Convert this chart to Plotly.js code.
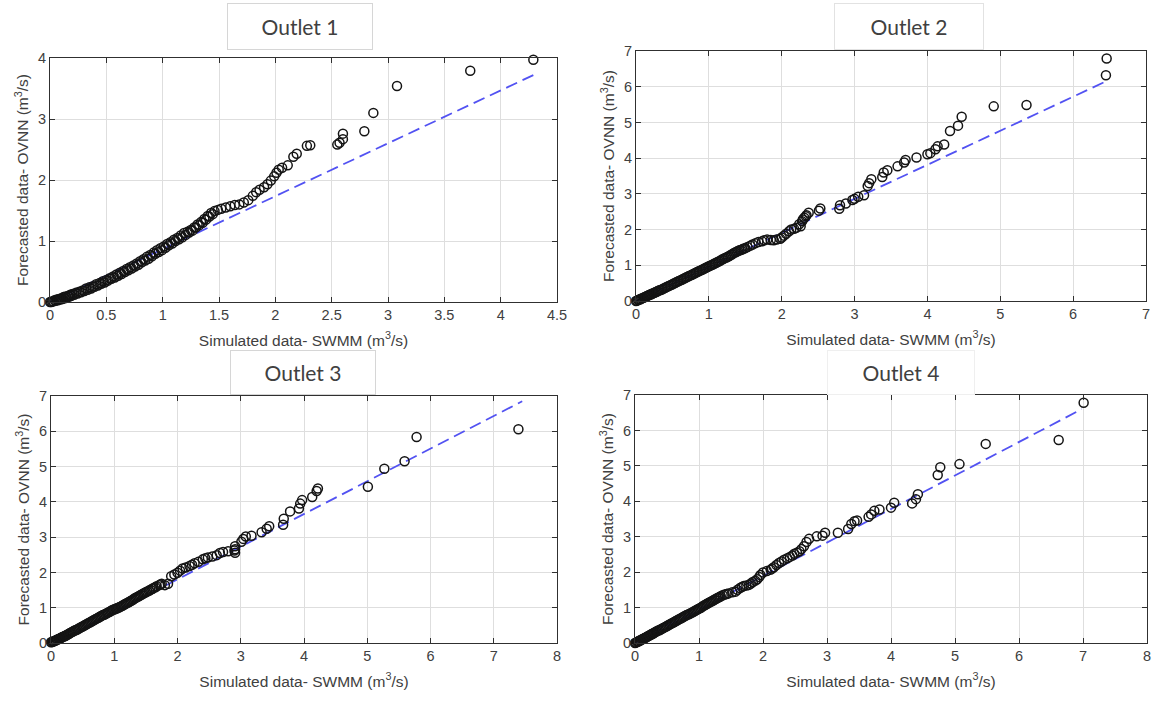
<!DOCTYPE html>
<html>
<head>
<meta charset="utf-8">
<script src="https://cdn.plot.ly/plotly-3.0.1.min.js"></script>
<style>
  html, body { margin: 0; padding: 0; background: #ffffff; }
  #chart { width: 1157px; height: 702px; }
</style>
</head>
<body>
<div id="chart"></div>
<script>
// ---------- Data ----------
const panelTitles = ["Outlet 1", "Outlet 2", "Outlet 3", "Outlet 4"];
const xAxisTitle = "Simulated data- SWMM (m<sup>3</sup>/s)";
const yAxisTitle = "Forecasted data- OVNN (m<sup>3</sup>/s)";

// Outlet 1
const o1x = [0.00,0.02,0.04,0.06,0.08,0.10,0.12,0.14,0.16,0.18,0.20,0.23,0.26,0.29,0.32,0.35,0.38,0.41,0.44,0.47,0.50,0.53,0.56,0.59,0.62,0.65,0.68,0.71,0.74,0.77,0.80,0.83,0.86,0.89,0.92,0.95,0.98,1.01,1.04,1.07,1.10,1.13,1.16,1.19,1.22,1.25,1.28,1.31,1.34,1.37,1.40,1.43,1.46,1.49,1.52,1.56,1.60,1.64,1.68,1.72,1.76,1.80,1.83,1.86,1.90,1.93,1.96,1.99,2.01,2.03,2.06,2.11,2.16,2.19,2.28,2.31,2.55,2.57,2.60,2.60,2.79,2.87,3.08,3.73,4.29];
const o1y = [0.00,0.01,0.03,0.04,0.05,0.06,0.08,0.09,0.10,0.12,0.13,0.15,0.17,0.19,0.22,0.24,0.26,0.29,0.31,0.34,0.36,0.39,0.42,0.45,0.48,0.51,0.54,0.57,0.60,0.63,0.67,0.70,0.74,0.77,0.81,0.85,0.88,0.91,0.95,0.98,1.02,1.05,1.09,1.13,1.15,1.18,1.22,1.27,1.31,1.36,1.41,1.46,1.49,1.51,1.53,1.55,1.57,1.59,1.60,1.63,1.67,1.74,1.80,1.84,1.88,1.93,1.99,2.06,2.12,2.17,2.20,2.24,2.38,2.43,2.56,2.57,2.58,2.61,2.67,2.76,2.80,3.10,3.54,3.79,3.97];
const o1xb = [0.01,0.03,0.05,0.07,0.09,0.11,0.13,0.15,0.17,0.19,0.215,0.245,0.275,0.305,0.335,0.365,0.395,0.425,0.455,0.485,0.515,0.545,0.575,0.605,0.635,0.665,0.695,0.725,0.755,0.785,0.815,0.845,0.875,0.905,0.935,0.965,0.995,1.025,1.055,1.085,1.115,1.145,1.175,1.205,1.235,1.265,1.295,1.325,1.355,1.385,1.415,1.445];
const o1yb = [0.00,0.01,0.02,0.03,0.04,0.05,0.06,0.07,0.09,0.10,0.12,0.14,0.16,0.18,0.20,0.22,0.25,0.27,0.30,0.32,0.35,0.38,0.40,0.43,0.46,0.49,0.52,0.55,0.58,0.61,0.65,0.68,0.71,0.75,0.79,0.82,0.85,0.89,0.93,0.96,1.00,1.03,1.06,1.10,1.14,1.17,1.22,1.26,1.30,1.35,1.40,1.44];
const fit1x = [0.00, 4.29];
const fit1y = [0.00, 3.72];

// Outlet 2
const o2x = [0.00,0.03,0.06,0.09,0.12,0.15,0.18,0.21,0.24,0.27,0.30,0.34,0.38,0.42,0.46,0.50,0.54,0.58,0.62,0.66,0.70,0.74,0.78,0.82,0.86,0.90,0.94,0.98,1.02,1.06,1.10,1.14,1.18,1.22,1.26,1.30,1.34,1.38,1.42,1.46,1.50,1.57,1.64,1.73,1.80,1.89,1.98,2.03,2.10,2.17,2.26,2.28,2.31,2.34,2.37,2.51,2.53,2.79,2.80,2.88,2.97,3.00,3.05,3.13,3.18,3.20,3.23,3.38,3.40,3.45,3.59,3.68,3.70,3.85,4.00,4.04,4.11,4.14,4.23,4.31,4.42,4.47,4.91,5.36,6.45,6.46];
const o2y = [0.00,0.03,0.05,0.08,0.11,0.14,0.17,0.19,0.22,0.25,0.28,0.31,0.35,0.39,0.43,0.47,0.51,0.55,0.59,0.63,0.67,0.71,0.75,0.79,0.83,0.87,0.91,0.95,0.99,1.03,1.07,1.11,1.16,1.20,1.24,1.29,1.34,1.38,1.42,1.45,1.48,1.55,1.62,1.67,1.72,1.70,1.74,1.83,1.95,2.02,2.09,2.23,2.33,2.40,2.47,2.53,2.59,2.58,2.68,2.73,2.83,2.86,2.92,2.96,3.22,3.30,3.41,3.47,3.60,3.66,3.77,3.88,3.95,4.02,4.11,4.14,4.25,4.33,4.38,4.76,4.91,5.16,5.45,5.49,6.32,6.79];
const o2xb = [0.015,0.045,0.075,0.105,0.135,0.165,0.195,0.225,0.255,0.285,0.32,0.36,0.40,0.44,0.48,0.52,0.56,0.60,0.64,0.68,0.72,0.76,0.80,0.84,0.88,0.92,0.96,1.00,1.04,1.08,1.12,1.16,1.20,1.24,1.28,1.32,1.36,1.40,1.44,1.48,1.53,1.60,1.68,1.76,1.85,1.93,2.00,2.06,2.13,2.20,2.24,2.29,2.33];
const o2yb = [0.01,0.04,0.07,0.09,0.12,0.15,0.18,0.21,0.23,0.26,0.30,0.33,0.37,0.41,0.45,0.49,0.53,0.57,0.61,0.65,0.69,0.73,0.77,0.81,0.85,0.89,0.93,0.97,1.01,1.05,1.09,1.13,1.18,1.22,1.26,1.31,1.36,1.40,1.43,1.47,1.51,1.58,1.65,1.70,1.71,1.72,1.78,1.88,2.00,2.05,2.15,2.28,2.37];
const fit2x = [0.00, 6.45];
const fit2y = [0.00, 6.15];

// Outlet 3
const o3x = [0.00,0.03,0.06,0.09,0.12,0.15,0.18,0.21,0.24,0.27,0.30,0.34,0.38,0.42,0.46,0.50,0.54,0.58,0.62,0.66,0.70,0.74,0.78,0.82,0.86,0.90,0.94,0.98,1.02,1.06,1.10,1.14,1.18,1.22,1.26,1.30,1.34,1.38,1.42,1.46,1.50,1.55,1.60,1.65,1.71,1.75,1.85,1.90,2.00,2.08,2.19,2.27,2.40,2.48,2.62,2.72,2.91,2.91,2.91,3.01,3.04,3.08,3.17,3.33,3.41,3.45,3.67,3.68,3.78,3.92,3.94,3.97,4.13,4.20,4.22,5.01,5.27,5.59,5.78,7.39];
const o3y = [0.02,0.04,0.06,0.09,0.11,0.14,0.17,0.19,0.22,0.25,0.28,0.32,0.36,0.39,0.43,0.47,0.51,0.55,0.59,0.63,0.67,0.71,0.75,0.79,0.82,0.86,0.90,0.94,0.97,1.00,1.03,1.07,1.11,1.15,1.19,1.23,1.28,1.32,1.36,1.40,1.44,1.48,1.53,1.58,1.64,1.68,1.68,1.89,1.99,2.11,2.18,2.26,2.37,2.42,2.49,2.58,2.56,2.66,2.74,2.87,2.95,3.02,3.04,3.14,3.24,3.31,3.35,3.52,3.73,3.81,3.95,4.05,4.14,4.31,4.38,4.43,4.94,5.15,5.84,6.06];
const o3xb = [0.015,0.045,0.075,0.105,0.135,0.165,0.195,0.225,0.255,0.285,0.32,0.36,0.40,0.44,0.48,0.52,0.56,0.60,0.64,0.68,0.72,0.76,0.80,0.84,0.88,0.92,0.96,1.00,1.04,1.08,1.12,1.16,1.20,1.24,1.28,1.32,1.36,1.40,1.44,1.48,1.52,1.57,1.62,1.67,1.73,1.80,1.95,2.04,2.13,2.23,2.33,2.44,2.55,2.67,2.80,2.90];
const o3yb = [0.03,0.05,0.07,0.10,0.12,0.15,0.18,0.20,0.23,0.26,0.30,0.34,0.37,0.41,0.45,0.49,0.53,0.57,0.61,0.65,0.69,0.73,0.77,0.80,0.84,0.88,0.92,0.95,0.98,1.01,1.05,1.09,1.13,1.17,1.21,1.26,1.30,1.34,1.38,1.42,1.46,1.51,1.56,1.61,1.66,1.64,1.94,2.05,2.14,2.22,2.30,2.40,2.45,2.55,2.60,2.62];
const fit3x = [0.05, 7.45];
const fit3y = [0.00, 6.85];

// Outlet 4
const o4x = [0.00,0.03,0.06,0.09,0.12,0.15,0.18,0.21,0.24,0.27,0.30,0.34,0.38,0.42,0.46,0.50,0.54,0.58,0.62,0.66,0.70,0.74,0.78,0.82,0.86,0.90,0.94,0.98,1.02,1.06,1.10,1.14,1.18,1.22,1.26,1.30,1.34,1.40,1.46,1.57,1.64,1.70,1.78,1.84,1.91,1.96,2.00,2.12,2.17,2.25,2.33,2.42,2.49,2.57,2.64,2.72,2.84,2.93,2.97,3.17,3.33,3.38,3.43,3.47,3.65,3.69,3.74,3.82,4.00,4.05,4.33,4.39,4.42,4.73,4.77,5.07,5.48,6.62,7.01];
const o4y = [0.00,0.03,0.05,0.08,0.11,0.14,0.17,0.20,0.23,0.26,0.29,0.33,0.36,0.40,0.44,0.48,0.52,0.56,0.60,0.64,0.68,0.72,0.76,0.80,0.83,0.87,0.91,0.95,0.99,1.04,1.08,1.12,1.16,1.20,1.24,1.28,1.32,1.37,1.40,1.45,1.55,1.61,1.64,1.72,1.80,1.92,1.99,2.07,2.14,2.26,2.35,2.43,2.52,2.59,2.73,2.94,3.01,3.03,3.11,3.11,3.22,3.36,3.44,3.46,3.56,3.63,3.73,3.77,3.82,3.96,3.94,4.06,4.20,4.74,4.96,5.05,5.62,5.73,6.78];
const o4xb = [0.015,0.045,0.075,0.105,0.135,0.165,0.195,0.225,0.255,0.285,0.32,0.36,0.40,0.44,0.48,0.52,0.56,0.60,0.64,0.68,0.72,0.76,0.80,0.84,0.88,0.92,0.96,1.00,1.04,1.08,1.12,1.16,1.20,1.24,1.28,1.32,1.37,1.43,1.52,1.60,1.67,1.74,1.81,1.88,1.94,2.06,2.14,2.21,2.29,2.38,2.46,2.53,2.60,2.68];
const o4yb = [0.01,0.04,0.07,0.10,0.12,0.15,0.18,0.21,0.24,0.27,0.31,0.35,0.38,0.42,0.46,0.50,0.54,0.58,0.62,0.66,0.70,0.74,0.78,0.81,0.85,0.89,0.93,0.97,1.01,1.06,1.10,1.14,1.18,1.22,1.26,1.30,1.35,1.38,1.43,1.50,1.58,1.62,1.68,1.76,1.86,2.03,2.10,2.20,2.30,2.39,2.47,2.55,2.65,2.85];
const fit4x = [0.00, 6.98];
const fit4y = [0.00, 6.60];

const xRanges = [[0, 4.5], [0, 7], [0, 8], [0, 8]];
const yRanges = [[0, 4], [0, 7], [0, 7], [0, 7]];
const xDticks = [0.5, 1, 1, 1];
const yDticks = [1, 1, 1, 1];

// ---------- Layout geometry (pixels in a 1157 x 702 page) ----------
const W = 1157, H = 702;
const boxes = [ // [left, right, top, bottom] of each plot area
  [50, 557, 58, 302],
  [636, 1146, 51, 301],
  [51, 557, 396, 643],
  [635, 1147, 395, 643]
];
const titleBoxes = [ // [centerX, centerY, width, height, borderColor]
  [300, 27, 142, 43, "#d6d6d6"],
  [909, 27, 146, 43, "#e2e2e2"],
  [303, 372, 142, 41, "#d6d6d6"],
  [901, 372, 144, 41, "#efefef"]
];

const pointsX = [o1x.concat(o1xb), o2x.concat(o2xb), o3x.concat(o3xb), o4x.concat(o4xb)];
const pointsY = [o1y.concat(o1yb), o2y.concat(o2yb), o3y.concat(o3yb), o4y.concat(o4yb)];
const fitX = [fit1x, fit2x, fit3x, fit4x];
const fitY = [fit1y, fit2y, fit3y, fit4y];

const FONT = "Liberation Sans, Arial, sans-serif";
const traces = [];
const layout = {
  width: W, height: H,
  margin: {l: 0, r: 0, t: 0, b: 0},
  paper_bgcolor: "#ffffff",
  plot_bgcolor: "#ffffff",
  showlegend: false,
  font: {family: FONT, size: 14, color: "#404040"},
  annotations: []
};

for (let i = 0; i < 4; i++) {
  const n = i + 1;
  const xa = "x" + (n === 1 ? "" : n);
  const ya = "y" + (n === 1 ? "" : n);
  traces.push({
    type: "scatter", mode: "lines",
    x: fitX[i], y: fitY[i], xaxis: xa, yaxis: ya,
    line: {color: "#5252f2", width: 1.8, dash: "12px,6px"},
    hoverinfo: "skip", cliponaxis: false
  });
  traces.push({
    type: "scatter", mode: "markers",
    x: pointsX[i], y: pointsY[i], xaxis: xa, yaxis: ya,
    marker: {symbol: "circle-open", size: 9, color: "#141414", line: {width: 1.5, color: "#141414"}},
    cliponaxis: false
  });

  const b = boxes[i];
  const axCommon = {
    showgrid: true, gridcolor: "#dedede", gridwidth: 1,
    zeroline: false,
    showline: true, linecolor: "#303030", linewidth: 1, mirror: "ticks",
    ticks: "inside", ticklen: 5, tickcolor: "#303030",
    tickfont: {family: FONT, size: 14.5, color: "#404040"},
    fixedrange: true
  };
  layout["xaxis" + (n === 1 ? "" : n)] = Object.assign({}, axCommon, {
    domain: [b[0] / W, b[1] / W],
    anchor: "y" + (n === 1 ? "" : n),
    range: xRanges[i], dtick: xDticks[i], tick0: 0,
    title: {text: xAxisTitle, font: {family: FONT, size: 15.5, color: "#404040"}, standoff: 12}
  });
  layout["yaxis" + (n === 1 ? "" : n)] = Object.assign({}, axCommon, {
    domain: [1 - b[3] / H, 1 - b[2] / H],
    anchor: "x" + (n === 1 ? "" : n),
    range: yRanges[i], dtick: yDticks[i], tick0: 0,
    title: {text: yAxisTitle, font: {family: FONT, size: 15.5, color: "#404040"}, standoff: 5}
  });

  const t = titleBoxes[i];
  layout.annotations.push({
    xref: "paper", yref: "paper",
    x: t[0] / W, y: 1 - t[1] / H,
    xanchor: "center", yanchor: "middle",
    text: panelTitles[i], showarrow: false,
    width: t[2], height: t[3],
    bgcolor: "#ffffff", bordercolor: t[4], borderwidth: 1,
    font: {family: "Lato, Open Sans, sans-serif", size: 21, color: "#404040"}
  });
}

Plotly.newPlot("chart", traces, layout, {displayModeBar: false, staticPlot: true});
</script>
</body>
</html>
